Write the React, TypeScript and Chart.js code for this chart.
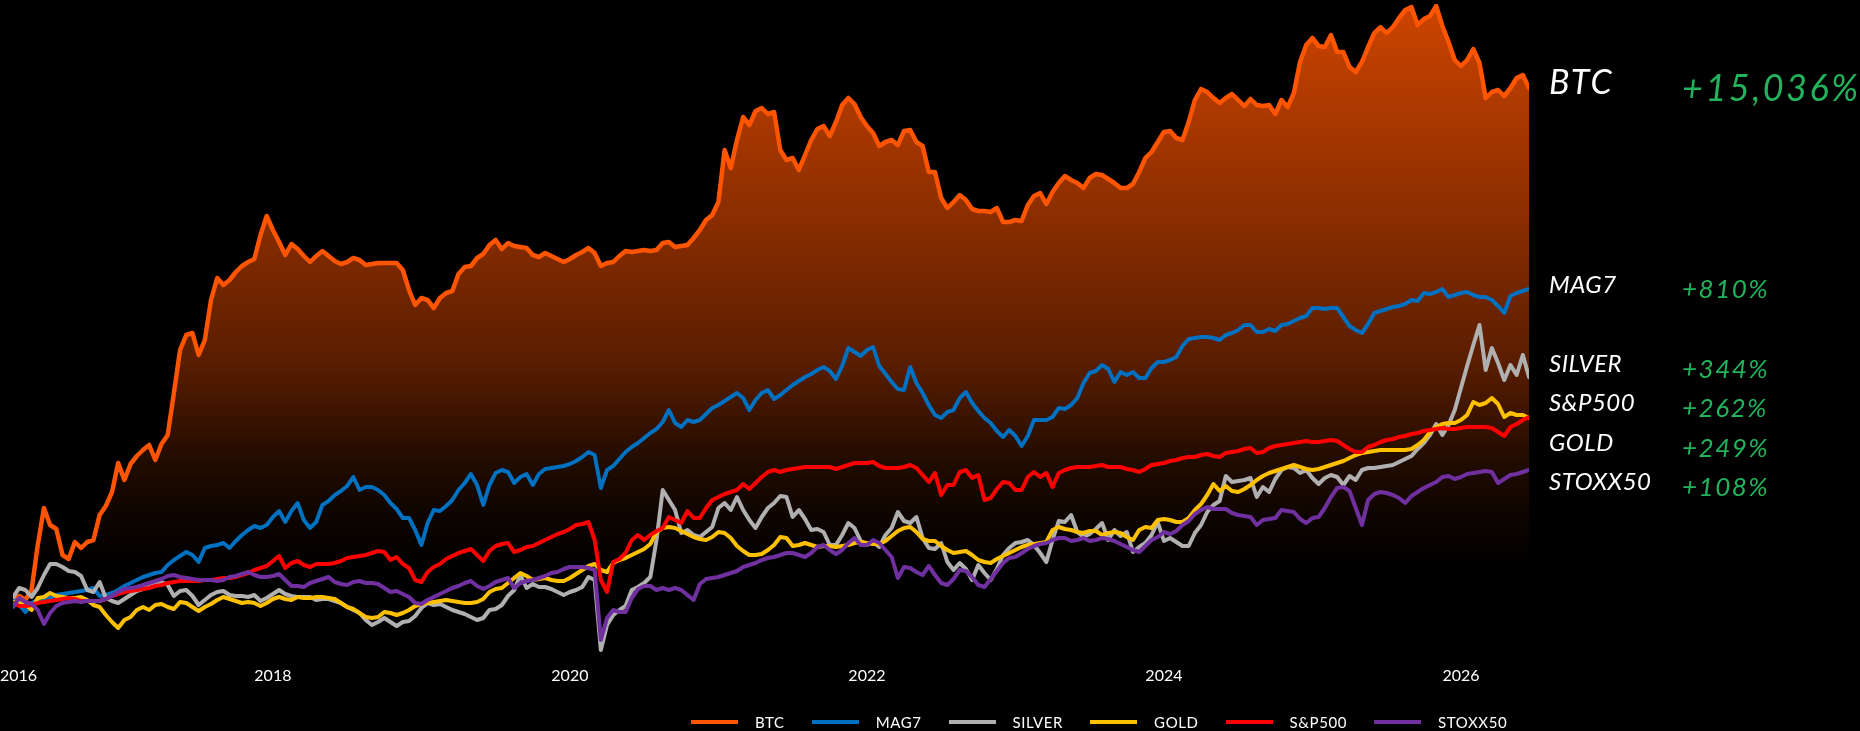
import React, { useEffect, useRef } from 'react';
import { Chart, registerables } from 'chart.js';

Chart.register(...registerables);

// Semi-monthly samples, first one in early March 2016, last one in June 2026.
const START_YEAR = 2016.25;
const STEP = 1 / 24;

// Values in its own (unlabelled) vertical scale:
// 0 = common starting level, higher = better cumulative performance.
const btc = [
  3, 7, 3, 13, 58, 95, 78, 74, 48, 44,
  61, 55, 61, 63, 88, 97, 111, 140, 123, 139,
  147, 153, 158, 143, 159, 168, 210, 253, 268, 270,
  248, 263, 303, 325, 318, 323, 331, 337, 341, 344,
  368, 387, 373, 361, 348, 359, 354, 347, 341, 347,
  352, 347, 342, 339, 341, 345, 343, 338, 339, 340,
  340, 340, 340, 333, 313, 298, 305, 303, 295, 305,
  310, 312, 329, 336, 337, 345, 349, 358, 363, 354,
  360, 357, 356, 355, 348, 346, 350, 347, 344, 341,
  344, 348, 351, 355, 350, 337, 340, 341, 347, 352,
  351, 352, 353, 352, 353, 360, 361, 356, 357, 358,
  365, 373, 383, 388, 401, 453, 435, 463, 486, 478,
  492, 495, 489, 491, 453, 443, 445, 433, 448, 463,
  474, 477, 467, 481, 498, 505, 499, 486, 477, 470,
  457, 461, 463, 458, 472, 473, 461, 457, 431, 431,
  405, 395, 401, 408, 403, 394, 392, 392, 391, 395,
  381, 381, 383, 382, 398, 407, 410, 399, 411, 420,
  427, 423, 420, 415, 425, 429, 428, 424, 420, 415,
  415, 419, 431, 445, 451, 461, 471, 472, 465, 463,
  481, 503, 514, 511, 505, 500, 505, 509, 503, 497,
  504, 498, 497, 498, 489, 503, 496, 510, 541, 558,
  565, 557, 556, 568, 551, 551, 536, 531, 541, 556,
  570, 576, 570, 576, 585, 593, 596, 578, 584, 587,
  597, 577, 561, 543, 537, 543, 554, 540, 505, 511,
  513, 507, 515, 525, 528, 515,
];

const mag7 = [
  3, -2, -9, 0, 3, 3, 5, 8, 9, 10,
  11, 12, 13, 15, 7, 8, 10, 13, 17, 20,
  23, 26, 28, 30, 31, 38, 43, 47, 51, 48,
  41, 55, 57, 58, 60, 55, 62, 68, 73, 77,
  75, 78, 86, 92, 81, 92, 100, 83, 75, 81,
  98, 102, 108, 112, 117, 126, 113, 116, 116, 113,
  108, 100, 94, 85, 85, 73, 58, 80, 93, 92,
  97, 103, 113, 120, 129, 118, 98, 118, 130, 133,
  131, 120, 126, 129, 118, 129, 134, 135, 136, 137,
  139, 142, 146, 151, 148, 115, 133, 137, 144, 151,
  156, 160, 165, 170, 174, 181, 193, 180, 176, 183,
  181, 183, 189, 195, 198, 202, 206, 210, 205, 193,
  203, 210, 213, 204, 208, 213, 218, 222, 226, 229,
  233, 236, 232, 224, 237, 255, 251, 247, 253, 256,
  237, 229, 221, 214, 213, 236, 220, 210, 198, 188,
  185, 191, 193, 205, 211, 200, 192, 185, 180, 172,
  166, 173, 167, 157, 167, 183, 183, 183, 186, 195,
  194, 198, 205, 220, 230, 232, 238, 234, 221, 231,
  228, 231, 225, 225, 235, 241, 241, 243, 246, 257,
  264, 265, 266, 266, 265, 263, 268, 270, 273, 278,
  278, 271, 271, 274, 272, 278, 279, 282, 285, 287,
  295, 295, 294, 295, 295, 286, 277, 273, 270, 279,
  290, 292, 294, 296, 297, 299, 303, 302, 310, 309,
  311, 314, 306, 308, 310, 311, 308, 306, 306, 303,
  297, 290, 307, 310, 312, 314,
];

const silver = [
  6, 15, 13, 6, 15, 28, 39, 39, 36, 32,
  31, 27, 13, 11, 21, 5, 2, 0, 4, 8,
  12, 14, 17, 20, 21, 18, 7, 12, 13, 7,
  -2, 3, 8, 11, 12, 8, 7, 7, 6, 8,
  2, 5, 9, 13, 9, 7, 6, 6, 6, 3,
  4, 4, 2, 0, -4, -7, -10, -17, -22, -19,
  -15, -19, -23, -19, -18, -13, -5, 0, -2, -1,
  -4, -7, -9, -11, -14, -17, -15, -7, -6, -2,
  7, 13, 28, 15, 19, 16, 16, 14, 11, 8,
  11, 13, 16, 26, 23, -47, -22, -12, -7, -3,
  13, 16, 20, 26, 63, 113, 103, 93, 70, 73,
  68, 66, 71, 76, 95, 100, 93, 106, 93, 83,
  75, 86, 95, 100, 107, 106, 86, 93, 84, 73,
  74, 71, 58, 58, 68, 80, 75, 62, 58, 61,
  56, 68, 75, 91, 82, 80, 86, 65, 55, 54,
  60, 41, 33, 40, 34, 23, 38, 30, 23, 34,
  48, 55, 60, 61, 63, 58, 50, 41, 63, 82,
  81, 88, 71, 66, 69, 74, 80, 63, 73, 67,
  71, 51, 56, 60, 68, 81, 62, 65, 61, 57,
  57, 70, 78, 91, 98, 102, 127, 121, 122, 123,
  125, 106, 116, 111, 124, 133, 136, 135, 130, 133,
  125, 119, 125, 128, 126, 118, 127, 123, 133, 135,
  135, 136, 137, 138, 141, 144, 147, 154, 160, 168,
  179, 168, 178, 193, 215, 237, 258, 278, 233, 255,
  240, 223, 238, 228, 248, 226,
];

const gold = [
  1, 0, -1, -7, 5, 6, 10, 7, 6, 5,
  5, 6, 3, -2, -4, -12, -19, -25, -17, -14,
  -7, -4, -7, -2, -1, -4, -6, 1, 0, -4,
  -8, -4, -1, 3, 6, 4, 2, 0, 1, 0,
  -3, 0, 4, 6, 4, 3, 6, 5, 5, 6,
  6, 5, 4, 0, -4, -6, -10, -14, -15, -14,
  -9, -10, -12, -10, -7, -3, -1, 0, 1, 2,
  3, 2, 1, 0, 0, 1, 4, 11, 14, 15,
  20, 25, 30, 27, 23, 24, 25, 23, 22, 22,
  25, 29, 33, 37, 39, 33, 31, 40, 43, 45,
  48, 51, 54, 59, 71, 75, 76, 75, 72, 69,
  66, 64, 63, 66, 71, 70, 65, 57, 52, 48,
  48, 49, 53, 58, 66, 65, 57, 58, 60, 58,
  56, 57, 57, 56, 57, 58, 60, 61, 60, 59,
  59, 62, 67, 72, 75, 76, 71, 64, 62, 62,
  57, 53, 50, 51, 52, 48, 43, 41, 40, 44,
  47, 50, 53, 56, 58, 59, 60, 61, 73, 76,
  74, 73, 71, 70, 72, 72, 68, 70, 71, 70,
  66, 63, 73, 76, 75, 83, 84, 83, 81, 81,
  85, 93, 99, 108, 119, 112, 117, 112, 111, 114,
  118, 123, 127, 130, 132, 134, 136, 138, 136, 134,
  133, 134, 136, 138, 140, 142, 145, 148, 150, 151,
  152, 153, 153, 153, 153, 153, 154, 158, 163, 171,
  176, 179, 180, 180, 183, 188, 201, 198, 200, 205,
  199, 186, 190, 188, 188, 185,
];

const sp500 = [
  0, -3, -3, -2, 0, 1, 2, 3, 4, 5,
  4, 2, 2, 2, 2, 4, 7, 9, 11, 12,
  13, 14, 15, 17, 18, 20, 21, 22, 22, 22,
  22, 23, 23, 24, 25, 25, 26, 28, 30, 33,
  35, 37, 42, 47, 35, 40, 42, 38, 36, 39,
  39, 39, 40, 42, 45, 46, 47, 48, 50, 52,
  51, 43, 46, 39, 35, 23, 21, 31, 36, 39,
  44, 47, 50, 52, 54, 48, 42, 52, 57, 59,
  60, 51, 53, 56, 57, 60, 63, 66, 69, 71,
  74, 78, 79, 81, 63, 23, 11, 41, 44, 50,
  63, 68, 63, 68, 72, 75, 86, 83, 80, 92,
  85, 85, 95, 103, 106, 109, 111, 113, 119, 114,
  120, 126, 131, 133, 131, 133, 134, 135, 136, 136,
  136, 136, 136, 134, 136, 138, 140, 140, 140, 141,
  137, 135, 135, 135, 136, 138, 135, 128, 121, 130,
  108, 118, 118, 131, 133, 125, 128, 103, 105, 114,
  121, 120, 113, 113, 126, 131, 126, 130, 116, 130,
  133, 135, 136, 136, 136, 137, 138, 136, 136, 136,
  134, 133, 131, 134, 138, 139, 140, 142, 143, 145,
  146, 146, 148, 149, 147, 146, 150, 151, 152, 154,
  155, 150, 151, 155, 157, 158, 159, 160, 161, 162,
  161, 161, 162, 163, 162, 158, 154, 151, 151, 156,
  158, 161, 163, 164, 166, 167, 169, 170, 172, 173,
  174, 175, 174, 174, 175, 176, 176, 176, 176, 175,
  171, 167, 176, 179, 183, 186,
];

const stoxx50 = [
  -4, 5, 1, -1, -7, -21, -10, -3, 0, 1,
  2, 1, 2, 2, 2, 4, 7, 11, 14, 15,
  16, 18, 20, 22, 24, 27, 28, 26, 25, 24,
  23, 23, 23, 22, 23, 26, 27, 29, 31, 28,
  26, 26, 27, 29, 23, 17, 17, 16, 20, 22,
  24, 26, 21, 19, 18, 21, 22, 20, 20, 19,
  15, 11, 12, 9, 6, 0, -1, 3, 6, 9,
  12, 15, 17, 20, 22, 17, 14, 17, 21, 23,
  25, 15, 20, 22, 23, 25, 27, 30, 31, 34,
  36, 36, 36, 35, 33, -37, -15, -7, -9, -9,
  5, 14, 17, 17, 13, 15, 13, 15, 13, 8,
  3, 19, 24, 25, 26, 28, 30, 32, 36, 38,
  40, 43, 45, 46, 48, 50, 50, 48, 46, 50,
  56, 58, 53, 49, 53, 60, 65, 58, 58, 63,
  60, 53, 46, 25, 36, 35, 31, 28, 37, 28,
  20, 18, 24, 33, 32, 26, 18, 16, 24, 32,
  40, 45, 46, 50, 54, 57, 59, 60, 63, 65,
  65, 62, 63, 65, 62, 63, 65, 64, 62, 59,
  56, 53, 51, 57, 63, 66, 71, 69, 72, 78,
  82, 89, 93, 96, 94, 94, 94, 90, 88, 87,
  86, 78, 83, 84, 85, 93, 92, 91, 84, 80,
  85, 86, 95, 106, 115, 116, 112, 95, 78, 103,
  109, 111, 110, 108, 105, 100, 107, 111, 115, 118,
  121, 126, 127, 124, 126, 129, 130, 131, 132, 131,
  120, 124, 128, 129, 131, 133,
];

const SERIES_NAMES = ['BTC', 'MAG7', 'SILVER', 'GOLD', 'S&P500', 'STOXX50'];
const SERIES_VALUES = [btc, mag7, silver, gold, sp500, stoxx50];
const SERIES_COLORS = ['#ff5500', '#0070c0', '#b0b0b0', '#ffc000', '#ff0000', '#7030a0'];
const TOTAL_RETURNS = ['+15,036%', '+810%', '+344%', '+249%', '+262%', '+108%'];
const YEAR_TICKS = [2016, 2018, 2020, 2022, 2024, 2026];

const Y_MIN = -57;
const Y_MAX = 599;
const GREEN = '#22b45c';
const FONT = 'Lato, "Open Sans", sans-serif';

const endLabels = {
  id: 'endLabels',
  afterDraw(chart: any) {
    const { ctx, chartArea, scales } = chart;
    const yS = scales.y;
    const GAP = 39.5;
    const items = SERIES_VALUES.map((vals, i) => ({
      i,
      desired: yS.getPixelForValue(vals[vals.length - 1]),
      pos: 0,
    })).sort((a, b) => a.desired - b.desired);

    let groups: any[] = items.map((it) => ({ members: [it] }));
    const mean = (g: any) => g.members.reduce((s: number, m: any) => s + m.desired, 0) / g.members.length;
    const top = (g: any) => mean(g) - ((g.members.length - 1) * GAP) / 2;
    const bottom = (g: any) => mean(g) + ((g.members.length - 1) * GAP) / 2;
    let changed = true;
    while (changed) {
      changed = false;
      for (let k = 0; k < groups.length - 1; k++) {
        if (top(groups[k + 1]) - bottom(groups[k]) < GAP) {
          groups.splice(k, 2, { members: groups[k].members.concat(groups[k + 1].members) });
          changed = true;
          break;
        }
      }
    }
    groups.forEach((g) => {
      const t = top(g) + (g.members.length > 1 ? 7 : 0);
      g.members.forEach((m: any, j: number) => (m.pos = t + j * GAP));
    });

    ctx.save();
    ctx.textAlign = 'left';
    ctx.textBaseline = 'alphabetic';
    const capH = 0.717;
    items.forEach((m) => {
      const big = m.i === 0;
      const nameSize = big ? 34 : 24;
      const pctSize = big ? 36 : 26;
      const nameCenter = m.pos - (big ? 6 : 5);
      ctx.font = `italic 400 ${nameSize}px ${FONT}`;
      ctx.fillStyle = '#ffffff';
      (ctx as any).letterSpacing = big ? '2px' : '0.5px';
      ctx.fillText(SERIES_NAMES[m.i], chartArea.right + 20, nameCenter + (capH * nameSize) / 2);
      ctx.font = `italic 400 ${pctSize}px ${FONT}`;
      ctx.fillStyle = GREEN;
      (ctx as any).letterSpacing = big ? '2.5px' : '1.5px';
      ctx.fillText(TOTAL_RETURNS[m.i], chartArea.right + 153, m.pos + (capH * pctSize) / 2);
    });
    (ctx as any).letterSpacing = '0px';

    // year labels along the bottom
    ctx.font = `400 16px ${FONT}`;
    ctx.fillStyle = '#ffffff';
    ctx.textAlign = 'center';
    const xS = scales.x;
    YEAR_TICKS.forEach((yr) => {
      const label = String(yr);
      const w = ctx.measureText(label).width;
      const px = Math.max(xS.getPixelForValue(yr), w / 2);
      ctx.fillText(label, px, 675.5 + (capH * 16) / 2);
    });
    ctx.restore();
  },
};

export default function App() {
  const canvasRef = useRef<HTMLCanvasElement | null>(null);

  useEffect(() => {
    const canvas = canvasRef.current;
    if (!canvas) return;
    const n = btc.length;
    const datasets = SERIES_VALUES.map((vals, i) => {
      const base: any = {
        label: SERIES_NAMES[i],
        data: vals.map((v, k) => ({ x: START_YEAR + k * STEP, y: v })),
        borderColor: SERIES_COLORS[i],
        borderWidth: i === 0 ? 4.5 : 4,
        pointRadius: 0,
        tension: 0,
        fill: false,
        order: SERIES_VALUES.length - i,
        borderJoinStyle: 'round',
        borderCapStyle: 'round',
      };
      if (i === 0) {
        base.fill = 'start';
        base.backgroundColor = (c: any) => {
          const area = c.chart.chartArea;
          if (!area) return 'rgba(0,0,0,0)';
          const g = c.chart.ctx.createLinearGradient(0, area.top, 0, area.bottom);
          g.addColorStop(0, 'rgb(205,68,0)');
          g.addColorStop(0.345, 'rgb(134,44,0)');
          g.addColorStop(0.55, 'rgb(88,29,0)');
          g.addColorStop(0.7, 'rgb(32,11,0)');
          g.addColorStop(0.8, 'rgb(10,3,0)');
          g.addColorStop(0.86, 'rgb(0,0,0)');
          g.addColorStop(1, 'rgb(0,0,0)');
          return g;
        };
      }
      return base;
    });

    const chart = new Chart(canvas, {
      type: 'line',
      data: { datasets },
      options: {
        animation: false,
        responsive: false,
        maintainAspectRatio: false,
        layout: { padding: { left: 13, right: 331, top: 4, bottom: 71 } },
        scales: {
          x: { type: 'linear', min: START_YEAR, max: START_YEAR + (n - 1) * STEP, display: false },
          y: { type: 'linear', min: Y_MIN, max: Y_MAX, display: false },
        },
        plugins: {
          legend: { display: false },
          tooltip: { enabled: false },
          filler: { drawTime: 'beforeDatasetsDraw' },
        } as any,
      },
      plugins: [endLabels],
    });
    return () => chart.destroy();
  }, []);

  return (
    <div style={{ position: 'fixed', left: 0, top: 0, width: 1860, height: 731, background: '#000', overflow: 'hidden' }}>
      <canvas ref={canvasRef} width={1860} height={731} style={{ display: 'block', width: 1860, height: 731 }} />
      <div
        style={{
          position: 'absolute',
          left: 691,
          top: 712,
          height: 20,
          display: 'flex',
          alignItems: 'center',
          fontFamily: FONT,
          fontSize: 15,
          letterSpacing: 0.6,
          color: '#fff',
        }}
      >
        {SERIES_NAMES.map((name, i) => (
          <div key={name} style={{ display: 'flex', alignItems: 'center', marginRight: 27 }}>
            <span style={{ display: 'inline-block', width: 47, height: 4, background: SERIES_COLORS[i], marginRight: 17 }} />
            <span>{name}</span>
          </div>
        ))}
      </div>
    </div>
  );
}
